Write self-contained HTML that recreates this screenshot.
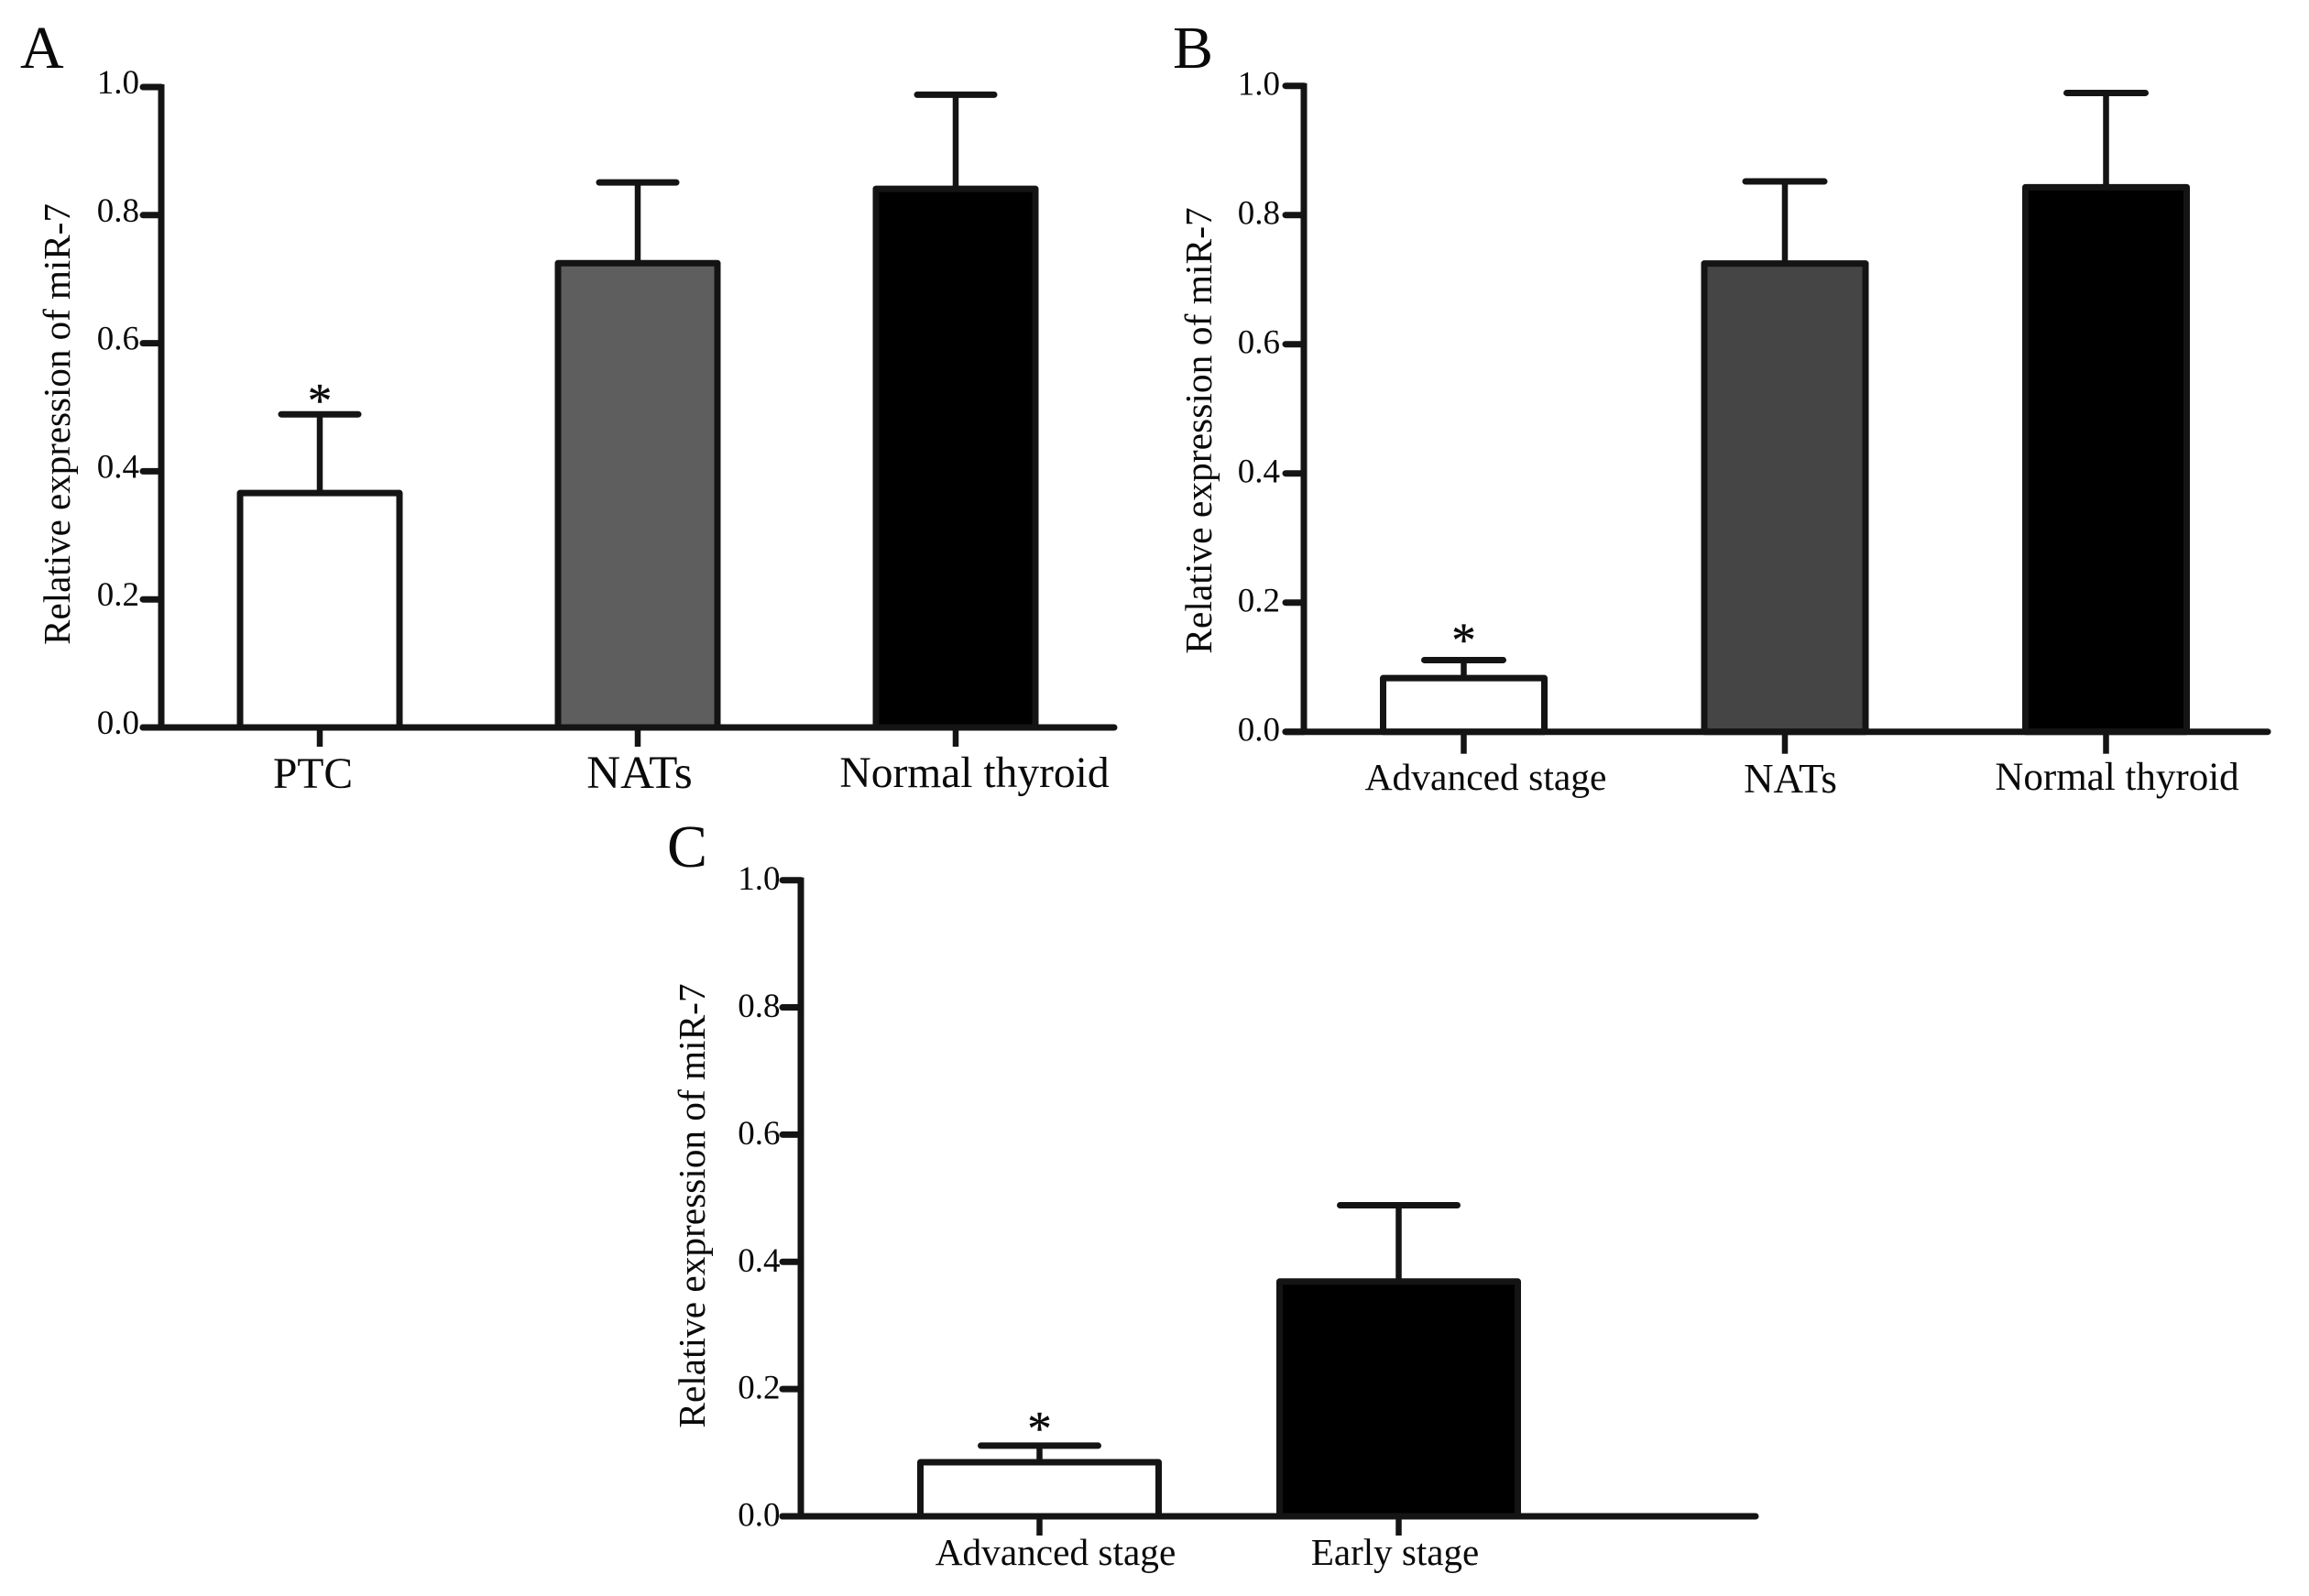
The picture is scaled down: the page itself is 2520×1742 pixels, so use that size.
<!DOCTYPE html>
<html lang="en">
<head>
<meta charset="utf-8">
<title>Relative expression of miR-7</title>
<style>
html,body{margin:0;padding:0;background:#fff}
svg{display:block}
text{font-family:"Liberation Serif",serif;fill:#0a0a0a}
.tick-label{font-size:37px}
.y-title{font-size:41px}
.panel-letter{font-size:66px}
</style>
</head>
<body>
<svg id="figure" xmlns="http://www.w3.org/2000/svg" width="2520" height="1742" viewBox="0 0 2520 1742">
<rect x="0" y="0" width="2520" height="1742" fill="#fff"/>
<text class="panel-letter" x="22" y="74">A</text>
<text class="panel-letter" x="1280" y="74">B</text>
<text class="panel-letter" x="728" y="946">C</text>
<text class="y-title" text-anchor="middle" transform="translate(76 463) rotate(-90)">Relative expression of miR-7</text>
<text class="y-title" text-anchor="middle" style="font-size:41.5px" transform="translate(1322 470) rotate(-90)">Relative expression of miR-7</text>
<text class="y-title" text-anchor="middle" style="font-size:41.3px" transform="translate(769 1316) rotate(-90)">Relative expression of miR-7</text>
</svg>
<script>
// Shared axis ticks
var yTickValues = [0, 0.2, 0.4, 0.6, 0.8, 1.0];
var yTickLabels = ["0.0", "0.2", "0.4", "0.6", "0.8", "1.0"];

// Panel A data
var panelACategories = ["PTC", "NATs", "Normal thyroid"];
var panelAMeans = [0.366, 0.725, 0.841];
var panelAErrorTops = [0.489, 0.851, 0.988];
var panelASignificant = [true, false, false];

// Panel B data
var panelBCategories = ["Advanced stage", "NATs", "Normal thyroid"];
var panelBMeans = [0.083, 0.725, 0.843];
var panelBErrorTops = [0.111, 0.852, 0.989];
var panelBSignificant = [true, false, false];

// Panel C data
var panelCCategories = ["Advanced stage", "Early stage"];
var panelCMeans = [0.085, 0.369];
var panelCErrorTops = [0.111, 0.489];
var panelCSignificant = [true, false];

var NS = "http://www.w3.org/2000/svg";
var svg = document.getElementById("figure");
var INK = "#141414";
var LINE = 7;

function make(tag, attrs, parent) {
  var el = document.createElementNS(NS, tag);
  for (var k in attrs) el.setAttribute(k, attrs[k]);
  parent.appendChild(el);
  return el;
}

function drawPanel(cfg) {
  var g = make("g", {}, svg);
  
  

  function yScale(v) { return cfg.y0 + (cfg.y1 - cfg.y0) * v; }
  function xScale(i) { return cfg.firstX + cfg.stepX * i; }

  // bars
  cfg.means.forEach(function (v, i) {
    var top = yScale(v);
    var bar = make("rect", {
      x: xScale(i) - cfg.barHalf, y: top,
      width: cfg.barHalf * 2, height: cfg.y0 - top,
      fill: cfg.fills[i], stroke: INK, "stroke-width": LINE, "stroke-linejoin": "round"
    }, g);
    
    
  });

  // error bars
  cfg.errorTops.forEach(function (v, i) {
    var cx = xScale(i);
    var stem = make("line", {
      x1: cx, x2: cx, y1: yScale(cfg.means[i]), y2: yScale(v),
      stroke: INK, "stroke-width": 6.5
    }, g);
    
    
    var cap = make("line", {
      x1: cx - cfg.capHalf + 3, x2: cx + cfg.capHalf - 3, y1: yScale(v), y2: yScale(v),
      stroke: INK, "stroke-width": LINE, "stroke-linecap": "round"
    }, g);
    
    
    if (cfg.significant[i]) {
      var star = make("text", {
        x: cx, y: yScale(v) - cfg.starGap, "text-anchor": "middle", "font-size": 53,
        stroke: "#0a0a0a", "stroke-width": 0.4
      }, g);
      star.textContent = "*";
      
      
    }
  });

  // axes
  var yAxis = make("line", {
    x1: cfg.axisX, x2: cfg.axisX, y1: cfg.y1 - 3, y2: cfg.y0 + 3,
    stroke: INK, "stroke-width": LINE
  }, g);
  
  
  var xAxis = make("line", {
    x1: cfg.axisX - cfg.tickLen + 3, x2: cfg.axisEnd, y1: cfg.y0, y2: cfg.y0,
    stroke: INK, "stroke-width": LINE, "stroke-linecap": "round"
  }, g);
  
  

  yTickValues.forEach(function (v, i) {
    var t = make("line", {
      x1: cfg.axisX - cfg.tickLen + 3, x2: cfg.axisX, y1: yScale(v), y2: yScale(v),
      stroke: INK, "stroke-width": LINE, "stroke-linecap": "round"
    }, g);
    
    
    var label = make("text", {
      "class": "tick-label", x: cfg.tickLabelX, y: yScale(v) + cfg.tickLabelDy, "text-anchor": "end"
    }, g);
    label.textContent = yTickLabels[i];
    
    
  });

  cfg.categories.forEach(function (c, i) {
    var cx = xScale(i);
    var t = make("line", {
      x1: cx, x2: cx, y1: cfg.y0, y2: cfg.y0 + cfg.tickDown,
      stroke: INK, "stroke-width": 6.5
    }, g);
    
    
    var label = make("text", {
      x: cx + cfg.labelDx[i], y: cfg.labelY[i], "font-size": cfg.labelSize[i], "text-anchor": "middle"
    }, g);
    label.textContent = c;
    
    
  });
}

drawPanel({
  id: "panel-a", categories: panelACategories, means: panelAMeans, errorTops: panelAErrorTops,
  significant: panelASignificant, fills: ["#fff", "#5e5e5e", "#000"],
  y0: 794, y1: 95, axisX: 176, axisEnd: 1216, tickLen: 23, tickDown: 21,
  tickLabelX: 152, tickLabelDy: 7,
  firstX: 349, stepX: 347, barHalf: 87, capHalf: 45, starGap: -3,
  labelDx: [-7.5, 2, 20.5], labelY: [860, 860, 859], labelSize: [47.5, 51, 47.5]
});
drawPanel({
  id: "panel-b", categories: panelBCategories, means: panelBMeans, errorTops: panelBErrorTops,
  significant: panelBSignificant, fills: ["#fff", "#454545", "#000"],
  y0: 798.7, y1: 93.7, axisX: 1423, axisEnd: 2475, tickLen: 23, tickDown: 24,
  tickLabelX: 1397, tickLabelDy: 10,
  firstX: 1597.5, stepX: 350.5, barHalf: 88, capHalf: 46, starGap: 3.7,
  labelDx: [24, 6, 12], labelY: [862, 865, 862], labelSize: [41.5, 45, 43]
});
drawPanel({
  id: "panel-c", categories: panelCCategories, means: panelCMeans, errorTops: panelCErrorTops,
  significant: panelCSignificant, fills: ["#fff", "#000"],
  y0: 1655, y1: 960.7, axisX: 874, axisEnd: 1916, tickLen: 23, tickDown: 21,
  tickLabelX: 851.5, tickLabelDy: 10.5,
  firstX: 1134.5, stepX: 392, barHalf: 130, capHalf: 67, starGap: 0.7,
  labelDx: [17.5, -4], labelY: [1708, 1708], labelSize: [41.3, 41]
});
</script>
</body>
</html>
